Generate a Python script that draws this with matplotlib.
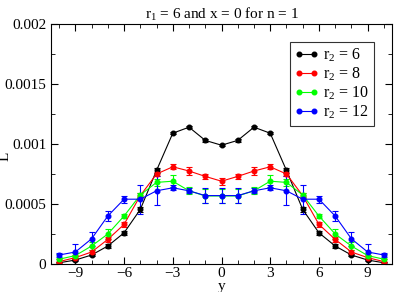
import numpy as np
import matplotlib
matplotlib.use("Agg")
import matplotlib.pyplot as plt
from matplotlib.ticker import MultipleLocator
from matplotlib.lines import Line2D

plt.rcParams["font.family"] = ["Liberation Serif", "DejaVu Serif"]
plt.rcParams["mathtext.default"] = "regular"

# data
y_pos = np.arange(-10, 11)

L_r6 = [0.00001, 0.000033, 0.000075, 0.00015, 0.00026, 0.000455, 0.00078, 0.00109, 0.00114, 0.00103, 0.00099,
        0.00103, 0.00114, 0.00109, 0.00078, 0.000455, 0.00026, 0.00015, 0.000075, 0.000033, 0.00001]
err_r6 = [0.00001, 0.00001, 0.00001, 0.000015, 0.000015, 0.00002, 0.00002, 0.00001, 0.00001, 0.00001, 0.00001,
          0.00001, 0.00001, 0.00001, 0.00002, 0.00002, 0.000015, 0.000015, 0.00001, 0.00001, 0.00001]

L_r8 = [0.00002, 0.000053, 0.0001, 0.000205, 0.00033, 0.00057, 0.00075, 0.00081, 0.000775, 0.00073, 0.00069,
        0.00073, 0.000775, 0.00081, 0.00075, 0.00057, 0.00033, 0.000205, 0.0001, 0.000053, 0.00002]
err_r8 = [0.00002, 0.00002, 0.00002, 0.00002, 0.00002, 0.00002, 0.00002, 0.00002, 0.00003, 0.00002, 0.00003,
          0.00002, 0.00003, 0.00002, 0.00002, 0.00002, 0.00002, 0.00002, 0.00002, 0.00002, 0.00002]

L_r10 = [0.00004, 0.00007, 0.00015, 0.00025, 0.0004, 0.000575, 0.00068, 0.00069, 0.00061, 0.000567, 0.000567,
         0.000567, 0.00061, 0.00069, 0.00068, 0.000575, 0.0004, 0.00025, 0.00015, 0.00007, 0.00004]
err_r10 = [0.00004, 0.00002, 0.00003, 0.00004, 0.00002, 0.00002, 0.00003, 0.00005, 0.00003, 0.00006, 0.00006,
           0.00006, 0.00003, 0.00005, 0.00003, 0.00002, 0.00002, 0.00004, 0.00003, 0.00002, 0.00004]

L_r12 = [0.000075, 0.0001, 0.00021, 0.0004, 0.00054, 0.00054, 0.00061, 0.000635, 0.00061, 0.00057, 0.00057,
         0.00057, 0.00061, 0.000635, 0.00061, 0.00054, 0.00054, 0.0004, 0.00021, 0.0001, 0.000075]
err_r12 = [0.00002, 0.00007, 0.00006, 0.00004, 0.00003, 0.00012, 0.00012, 0.00002, 0.00002, 0.00006, 0.00006,
           0.00006, 0.00002, 0.00002, 0.00012, 0.00012, 0.00003, 0.00004, 0.00006, 0.00007, 0.00002]

series = [(L_r6, err_r6, "black", r"r$_2$ = 6"),
          (L_r8, err_r8, "#ff0000", r"r$_2$ = 8"),
          (L_r10, err_r10, "#00ff00", r"r$_2$ = 10"),
          (L_r12, err_r12, "#0000ff", r"r$_2$ = 12")]

fig = plt.figure(figsize=(3.95, 2.92), dpi=100)
ax = fig.add_axes([51 / 395, 1 - 264 / 292, 341 / 395, 240 / 292])

handles = []
for vals, errs, col, lab in series:
    ax.errorbar(y_pos, vals, yerr=errs, color=col, marker="o", markersize=3.3,
                linewidth=0.8, elinewidth=0.8, capsize=2.5, capthick=0.8)
    handles.append(Line2D([], [], color=col, marker="o", markersize=3.3, linewidth=0.8, label=lab))

ax.set_xlim(-10.5, 10.5)
ax.set_ylim(0, 0.002)
ax.xaxis.set_major_locator(MultipleLocator(3))
ax.xaxis.set_minor_locator(MultipleLocator(1))
ax.yaxis.set_minor_locator(MultipleLocator(0.00025))
ax.set_yticks([0, 0.0005, 0.001, 0.0015, 0.002])
ax.set_yticklabels(["0", "0.0005", "0.001", "0.0015", "0.002"])
ax.tick_params(which="both", direction="in", top=True, right=True, labelsize=11)
ax.tick_params(axis="x", pad=2.5)
ax.tick_params(which="major", length=5)
ax.tick_params(which="minor", length=3)

ax.set_xlabel("y", fontsize=11)
ax.xaxis.set_label_coords(0.5, -0.068)
ax.set_ylabel("L", fontsize=11)
ax.yaxis.set_label_coords(-0.115, 0.45)
ax.set_title(r"r$_1$ = 6 and x = 0 for n = 1", fontsize=11, pad=4)

leg = ax.legend(handles=handles, loc="upper left", bbox_to_anchor=(0.70, 0.925), fontsize=11.5, numpoints=2,
                frameon=True, fancybox=False, edgecolor="black", handlelength=1.5, handletextpad=0.3,
                borderpad=0.3, labelspacing=0.1, borderaxespad=0)
leg.get_frame().set_linewidth(0.8)

fig.savefig("out.png", dpi=100)
